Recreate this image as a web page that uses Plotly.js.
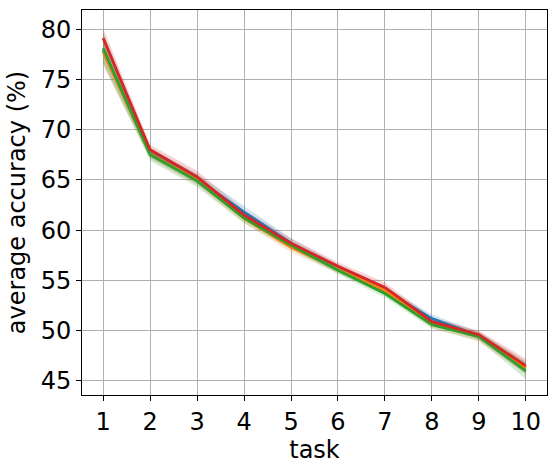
<!DOCTYPE html>
<html><head><meta charset="utf-8">
<script src="https://cdn.plot.ly/plotly-3.0.1.min.js"></script>
<style>body{margin:0;padding:0;background:#fff}#chart{width:556px;height:468px}</style>
</head><body><div id="chart"></div>
<script>
const tasks = [1,2,3,4,5,6,7,8,9,10];
const names = ["blue","orange","green","red"];
const colors = ["#1f77b4","#ff7f0e","#2ca02c","#d62728"];
const blueMean   = [77.9, 67.7, 65.1, 61.8, 58.7, 56.2, 54.0, 51.2, 49.5, 46.3];
const orangeMean = [77.7, 67.6, 65.0, 61.2, 58.3, 56.1, 54.0, 50.8, 49.4, 46.3];
const greenMean  = [78.1, 67.5, 64.9, 61.2, 58.5, 56.0, 53.7, 50.6, 49.4, 46.0];
const redMean    = [79.1, 68.0, 65.3, 61.5, 58.7, 56.4, 54.3, 50.9, 49.6, 46.5];
const blueStd    = [1.2, 0.5, 0.5, 0.6, 0.5, 0.4, 0.4, 0.4, 0.4, 0.6];
const orangeStd  = [1.3, 0.5, 0.5, 0.5, 0.5, 0.4, 0.4, 0.5, 0.5, 0.6];
const greenStd   = [1.6, 0.6, 0.6, 0.5, 0.4, 0.4, 0.4, 0.4, 0.4, 0.8];
const redStd     = [1.0, 0.5, 0.6, 0.5, 0.5, 0.4, 0.5, 0.4, 0.4, 0.7];
const means = [blueMean, orangeMean, greenMean, redMean];
const stds = [blueStd, orangeStd, greenStd, redStd];

const traces = [];
means.forEach((m, i) => {
  const up = m.map((v, k) => v + stds[i][k]);
  const lo = m.map((v, k) => v - stds[i][k]);
  traces.push({
    x: tasks.concat(tasks.slice().reverse()),
    y: up.concat(lo.slice().reverse()),
    fill: 'toself', fillcolor: colors[i], opacity: 0.2,
    line: {width: 0}, mode: 'lines', hoverinfo: 'skip', showlegend: false
  });
});
means.forEach((m, i) => {
  traces.push({x: tasks, y: m, mode: 'lines', name: names[i],
    line: {color: colors[i], width: 2.8}, showlegend: false});
});

const font = {family: 'DejaVu Sans, sans-serif', size: 24, color: '#000'};
const layout = {
  width: 556, height: 468,
  margin: {l: 82, r: 9, t: 10, b: 73},
  paper_bgcolor: '#fff', plot_bgcolor: '#fff',
  font: font, showlegend: false,
  xaxis: {
    range: [0.55, 10.45], tickvals: tasks, ticktext: tasks.map(String),
    showgrid: true, gridcolor: '#b0b0b0', gridwidth: 1,
    ticks: 'outside', ticklen: 5, tickcolor: '#000', tickfont: font,
    showline: true, linecolor: '#000', linewidth: 1, mirror: true, zeroline: false,
    title: {text: 'task', font: font, standoff: 0}
  },
  yaxis: {
    range: [43.6, 81.9], tickvals: [45,50,55,60,65,70,75,80],
    showgrid: true, gridcolor: '#b0b0b0', gridwidth: 1,
    ticks: 'outside', ticklen: 5, tickcolor: '#000', tickfont: font,
    showline: true, linecolor: '#000', linewidth: 1, mirror: true, zeroline: false,
    title: {text: 'average accuracy (%)', font: font, standoff: 8}
  }
};
Plotly.newPlot('chart', traces, layout, {staticPlot: true, displayModeBar: false});
</script></body></html>
